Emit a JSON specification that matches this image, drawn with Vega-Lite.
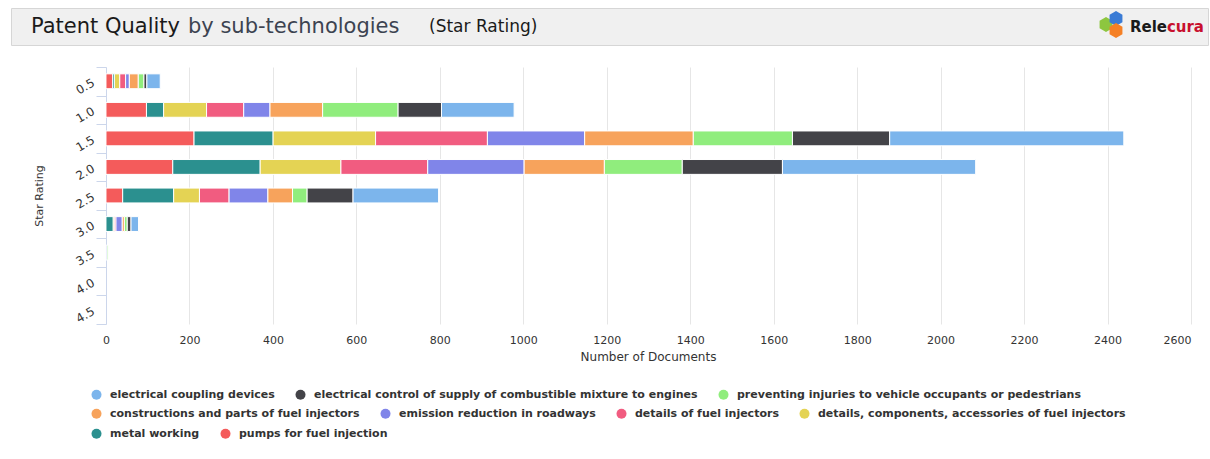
{
  "$schema": "https://vega.github.io/schema/vega-lite/v6.json",
  "padding": {"left": 10, "top": 7, "right": 3, "bottom": 0},
  "background": "white",
  "datasets": {
    "docs": [
      {"rating": "0.5", "technology": "pumps for fuel injection", "documents": 16},
      {"rating": "0.5", "technology": "metal working", "documents": 4},
      {"rating": "0.5", "technology": "details, components, accessories of fuel injectors", "documents": 13},
      {"rating": "0.5", "technology": "details of fuel injectors", "documents": 14},
      {"rating": "0.5", "technology": "emission reduction in roadways", "documents": 9},
      {"rating": "0.5", "technology": "constructions and parts of fuel injectors", "documents": 21},
      {"rating": "0.5", "technology": "preventing injuries to vehicle occupants or pedestrians", "documents": 14},
      {"rating": "0.5", "technology": "electrical control of supply of combustible mixture to engines", "documents": 7},
      {"rating": "0.5", "technology": "electrical coupling devices", "documents": 32},

      {"rating": "1.0", "technology": "pumps for fuel injection", "documents": 97},
      {"rating": "1.0", "technology": "metal working", "documents": 41},
      {"rating": "1.0", "technology": "details, components, accessories of fuel injectors", "documents": 103},
      {"rating": "1.0", "technology": "details of fuel injectors", "documents": 89},
      {"rating": "1.0", "technology": "emission reduction in roadways", "documents": 63},
      {"rating": "1.0", "technology": "constructions and parts of fuel injectors", "documents": 126},
      {"rating": "1.0", "technology": "preventing injuries to vehicle occupants or pedestrians", "documents": 181},
      {"rating": "1.0", "technology": "electrical control of supply of combustible mixture to engines", "documents": 104},
      {"rating": "1.0", "technology": "electrical coupling devices", "documents": 174},

      {"rating": "1.5", "technology": "pumps for fuel injection", "documents": 211},
      {"rating": "1.5", "technology": "metal working", "documents": 189},
      {"rating": "1.5", "technology": "details, components, accessories of fuel injectors", "documents": 246},
      {"rating": "1.5", "technology": "details of fuel injectors", "documents": 268},
      {"rating": "1.5", "technology": "emission reduction in roadways", "documents": 233},
      {"rating": "1.5", "technology": "constructions and parts of fuel injectors", "documents": 260},
      {"rating": "1.5", "technology": "preventing injuries to vehicle occupants or pedestrians", "documents": 238},
      {"rating": "1.5", "technology": "electrical control of supply of combustible mixture to engines", "documents": 233},
      {"rating": "1.5", "technology": "electrical coupling devices", "documents": 561},

      {"rating": "2.0", "technology": "pumps for fuel injection", "documents": 160},
      {"rating": "2.0", "technology": "metal working", "documents": 209},
      {"rating": "2.0", "technology": "details, components, accessories of fuel injectors", "documents": 194},
      {"rating": "2.0", "technology": "details of fuel injectors", "documents": 208},
      {"rating": "2.0", "technology": "emission reduction in roadways", "documents": 231},
      {"rating": "2.0", "technology": "constructions and parts of fuel injectors", "documents": 192},
      {"rating": "2.0", "technology": "preventing injuries to vehicle occupants or pedestrians", "documents": 187},
      {"rating": "2.0", "technology": "electrical control of supply of combustible mixture to engines", "documents": 240},
      {"rating": "2.0", "technology": "electrical coupling devices", "documents": 463},

      {"rating": "2.5", "technology": "pumps for fuel injection", "documents": 40},
      {"rating": "2.5", "technology": "metal working", "documents": 122},
      {"rating": "2.5", "technology": "details, components, accessories of fuel injectors", "documents": 62},
      {"rating": "2.5", "technology": "details of fuel injectors", "documents": 71},
      {"rating": "2.5", "technology": "emission reduction in roadways", "documents": 93},
      {"rating": "2.5", "technology": "constructions and parts of fuel injectors", "documents": 59},
      {"rating": "2.5", "technology": "preventing injuries to vehicle occupants or pedestrians", "documents": 35},
      {"rating": "2.5", "technology": "electrical control of supply of combustible mixture to engines", "documents": 110},
      {"rating": "2.5", "technology": "electrical coupling devices", "documents": 205},

      {"rating": "3.0", "technology": "metal working", "documents": 17},
      {"rating": "3.0", "technology": "details, components, accessories of fuel injectors", "documents": 3},
      {"rating": "3.0", "technology": "details of fuel injectors", "documents": 4},
      {"rating": "3.0", "technology": "emission reduction in roadways", "documents": 15},
      {"rating": "3.0", "technology": "constructions and parts of fuel injectors", "documents": 5},
      {"rating": "3.0", "technology": "preventing injuries to vehicle occupants or pedestrians", "documents": 7},
      {"rating": "3.0", "technology": "electrical control of supply of combustible mixture to engines", "documents": 9},
      {"rating": "3.0", "technology": "electrical coupling devices", "documents": 18},

      {"rating": "3.5", "technology": "emission reduction in roadways", "documents": 2},
      {"rating": "3.5", "technology": "preventing injuries to vehicle occupants or pedestrians", "documents": 3}
    ]
  },
  "spacing": 15,
  "vconcat": [
    {
      "width": 1197,
      "height": 37,
      "view": {"fill": "#f0f0f0", "stroke": "#d6d6d6"},
      "data": {"values": [{}]},
      "layer": [
        {
          "mark": {"type": "text", "text": "Patent Quality", "align": "left", "baseline": "middle", "font": "DejaVu Sans", "fontSize": 21, "color": "#1a1a1a", "dx": 20},
          "encoding": {"x": {"value": 0}}
        },
        {
          "mark": {"type": "text", "text": "by sub-technologies", "align": "left", "baseline": "middle", "font": "DejaVu Sans", "fontSize": 21, "color": "#3c4350", "dx": 177},
          "encoding": {"x": {"value": 0}}
        },
        {
          "mark": {"type": "text", "text": "(Star Rating)", "align": "left", "baseline": "middle", "font": "DejaVu Sans", "fontSize": 17, "color": "#1a1a1a", "dx": 418},
          "encoding": {"x": {"value": 0}}
        },
        {
          "mark": {"type": "point", "shape": "M0,-1L0.866,-0.5L0.866,0.5L0,1L-0.866,0.5L-0.866,-0.5Z", "filled": true, "size": 220, "opacity": 1, "color": "#8dc63f", "xOffset": -102, "yOffset": -2},
          "encoding": {"x": {"value": "width"}}
        },
        {
          "mark": {"type": "point", "shape": "M0,-1L0.866,-0.5L0.866,0.5L0,1L-0.866,0.5L-0.866,-0.5Z", "filled": true, "size": 220, "opacity": 1, "color": "#3a7bd5", "xOffset": -92, "yOffset": -8},
          "encoding": {"x": {"value": "width"}}
        },
        {
          "mark": {"type": "point", "shape": "M0,-1L0.866,-0.5L0.866,0.5L0,1L-0.866,0.5L-0.866,-0.5Z", "filled": true, "size": 220, "opacity": 1, "color": "#f58025", "xOffset": -92, "yOffset": 4},
          "encoding": {"x": {"value": "width"}}
        },
        {
          "mark": {"type": "text", "text": "cura", "align": "right", "baseline": "middle", "font": "DejaVu Sans", "fontSize": 15, "fontWeight": "bold", "color": "#c8102e", "dx": -4},
          "encoding": {"x": {"value": "width"}}
        },
        {
          "mark": {"type": "text", "text": "Rele", "align": "right", "baseline": "middle", "font": "DejaVu Sans", "fontSize": 15, "fontWeight": "bold", "color": "#1a1a1a", "dx": -41},
          "encoding": {"x": {"value": "width"}}
        }
      ]
    },
    {
      "width": 1180,
      "height": 257,
      "data": {"name": "docs"},
      "transform": [
        {"stack": "documents", "groupby": ["rating"], "as": ["doc_start", "doc_end"]}
      ],
      "encoding": {
        "y": {
          "field": "rating",
          "type": "ordinal",
          "scale": {"domain": ["0.5", "1.0", "1.5", "2.0", "2.5", "3.0", "3.5", "4.0", "4.5"], "paddingInner": 0, "paddingOuter": 0},
          "axis": {
            "offset": -95,
            "title": "Star Rating",
            "titleFont": "DejaVu Sans",
            "titleFontSize": 11,
            "titleFontWeight": "normal",
            "titleColor": "#333333",
            "titlePadding": 29,
            "labelAngle": -30,
            "labelAlign": "right",
            "labelBaseline": "middle",
            "labelFont": "DejaVu Sans",
            "labelFontSize": 12,
            "labelColor": "#333333",
            "labelPadding": 3,
            "tickBand": "extent",
            "tickSize": 10,
            "tickColor": "#ccd6eb",
            "domainColor": "#ccd6eb",
            "grid": false
          }
        },
        "x": {
          "field": "doc_start",
          "type": "quantitative",
          "scale": {"domain": [-227.6, 2600], "nice": false, "zero": false},
          "axis": {
            "title": "Number of Documents",
            "titleX": 637,
            "titleFont": "DejaVu Sans",
            "titleFontSize": 12,
            "titleFontWeight": "normal",
            "titleColor": "#333333",
            "titlePadding": 6,
            "values": [0, 200, 400, 600, 800, 1000, 1200, 1400, 1600, 1800, 2000, 2200, 2400, 2600],
            "format": "d",
            "labelFont": "DejaVu Sans",
            "labelFontSize": 11,
            "labelColor": "#333333",
            "labelPadding": 10,
            "labelFlush": 5,
            "grid": true,
            "gridColor": "#e6e6e6",
            "domain": false,
            "ticks": false
          }
        },
        "x2": {"field": "doc_end"}
      },
      "layer": [
        {
          "transform": [{"filter": {"field": "technology", "oneOf": ["electrical coupling devices", "electrical control of supply of combustible mixture to engines", "preventing injuries to vehicle occupants or pedestrians"]}}],
          "mark": {"type": "bar", "height": {"band": 0.52}, "stroke": "white", "strokeWidth": 1},
          "encoding": {
            "color": {
              "field": "technology",
              "type": "nominal",
              "scale": {"domain": ["electrical coupling devices", "electrical control of supply of combustible mixture to engines", "preventing injuries to vehicle occupants or pedestrians"], "range": ["#7cb5ec", "#434348", "#90ed7d"]},
              "legend": {"orient": "none", "legendX": 80, "legendY": 322, "direction": "horizontal", "title": null}
            }
          }
        },
        {
          "transform": [{"filter": {"field": "technology", "oneOf": ["constructions and parts of fuel injectors", "emission reduction in roadways", "details of fuel injectors", "details, components, accessories of fuel injectors"]}}],
          "mark": {"type": "bar", "height": {"band": 0.52}, "stroke": "white", "strokeWidth": 1},
          "encoding": {
            "color": {
              "field": "technology",
              "type": "nominal",
              "scale": {"domain": ["constructions and parts of fuel injectors", "emission reduction in roadways", "details of fuel injectors", "details, components, accessories of fuel injectors"], "range": ["#f7a35c", "#8085e9", "#f15c80", "#e4d354"]},
              "legend": {"orient": "none", "legendX": 80, "legendY": 341, "direction": "horizontal", "title": null}
            }
          }
        },
        {
          "transform": [{"filter": {"field": "technology", "oneOf": ["metal working", "pumps for fuel injection"]}}],
          "mark": {"type": "bar", "height": {"band": 0.52}, "stroke": "white", "strokeWidth": 1},
          "encoding": {
            "color": {
              "field": "technology",
              "type": "nominal",
              "scale": {"domain": ["metal working", "pumps for fuel injection"], "range": ["#2b908f", "#f45b5b"]},
              "legend": {"orient": "none", "legendX": 80, "legendY": 361, "direction": "horizontal", "title": null}
            }
          }
        }
      ],
      "resolve": {"scale": {"color": "independent"}}
    }
  ],
  "config": {
    "view": {"stroke": null},
    "font": "DejaVu Sans",
    "legend": {
      "padding": 0,
      "symbolType": "circle",
      "symbolSize": 100,
      "symbolStrokeWidth": 0,
      "labelFont": "DejaVu Sans",
      "labelFontSize": 11,
      "labelFontWeight": "bold",
      "labelColor": "#333333",
      "labelOffset": 8,
      "columnPadding": 20,
      "labelLimit": 0
    }
  }
}
